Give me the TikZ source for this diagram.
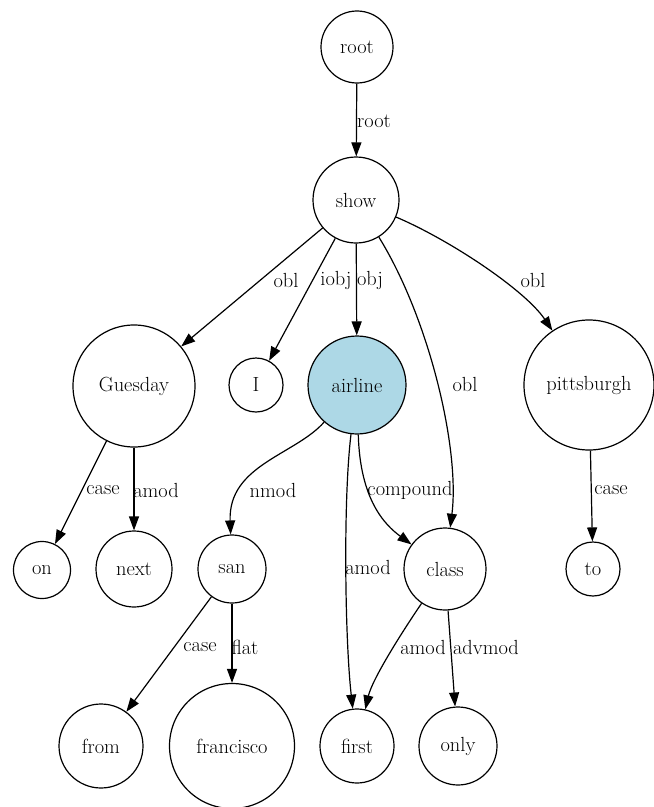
\documentclass[tikz,border=0pt]{standalone}
\usepackage{fontspec}
\usetikzlibrary{arrows.meta}
\definecolor{nodefill}{RGB}{173,216,230}
\begin{document}
\begin{tikzpicture}[x=1bp,y=-1bp,
  word/.style={circle,draw=black,line width=1.2bp,inner sep=0pt,text=black,
    font=\fontsize{20.5}{24}\selectfont},
  lbl/.style={inner sep=0pt,text=black,font=\fontsize{20.5}{24}\selectfont},
  dep/.style={line width=1.2bp,-{Triangle[length=14bp,width=10bp]}}]
\useasboundingbox (0,0) rectangle (654,807);

% tokens
\node[word,minimum size=72bp]  (root)  at (357,47)  {root};
\node[word,minimum size=86bp]  (show)  at (356,200) {show};
\node[word,minimum size=122bp] (guesday) at (134,386) {Guesday};
\node[word,minimum size=54bp]  (I)     at (256,385) {I};
\node[word,minimum size=98bp,fill=nodefill] (airline) at (357,385) {airline};
\node[word,minimum size=130bp] (pitt)  at (589,385) {pittsburgh};
\node[word,minimum size=57bp]  (on)    at (42,570)  {on};
\node[word,minimum size=76bp]  (next)  at (134,569) {next};
\node[word,minimum size=68bp]  (san)   at (232,569) {san};
\node[word,minimum size=82bp]  (class) at (445,569) {class};
\node[word,minimum size=54bp]  (to)    at (593,569) {to};
\node[word,minimum size=84bp]  (from)  at (101,746) {from};
\node[word,minimum size=125bp] (francisco) at (232,746) {francisco};
\node[word,minimum size=74bp]  (first) at (357,746) {first};
\node[word,minimum size=78bp]  (only)  at (458,746) {only};

% dependencies
\draw[dep] (root) -- (show);
\draw[dep] (show) -- (guesday);
\draw[dep] (show) -- (I);
\draw[dep] (show) -- (airline);
\draw[dep] (show) .. controls (430,320) and (460,450) .. (class);
\draw[dep] (show) .. controls (450,240) and (525,290) .. (pitt);
\draw[dep] (guesday) -- (on);
\draw[dep] (guesday) -- (next);
\draw[dep] (airline) .. controls (295,455) and (228,465) .. (san);
\draw[dep] (airline) .. controls (343,500) and (345,640) .. (first);
\draw[dep] (airline) .. controls (360,500) and (385,525) .. (class);
\draw[dep] (pitt) -- (to);
\draw[dep] (san) -- (from);
\draw[dep] (san) -- (francisco);
\draw[dep] (class) .. controls (400,635) and (372,680) .. (first);
\draw[dep] (class) -- (only);

% relation labels
\node[lbl] (l-root)   at (374,121) {root};
\node[lbl] (l-obl1)   at (286,280) {obl};
\node[lbl] (l-iobj)   at (336,280) {iobj};
\node[lbl] (l-obj)    at (370,280) {obj};
\node[lbl] (l-obl2)   at (533,280) {obl};
\node[lbl] (l-obl3)   at (465,384) {obl};
\node[lbl] (l-case1)  at (103,490) {case};
\node[lbl] (l-amod1)  at (156,490) {amod};
\node[lbl] (l-nmod)   at (273,490) {nmod};
\node[lbl] (l-comp)   at (410,490) {compound};
\node[lbl] (l-case2)  at (611,490) {case};
\node[lbl] (l-amod2)  at (368,567) {amod};
\node[lbl] (l-case3)  at (200,647) {case};
\node[lbl] (l-flat)   at (245,647) {flat};
\node[lbl] (l-amod3)  at (423,647) {amod};
\node[lbl] (l-advmod) at (486,647) {advmod};
\end{tikzpicture}
\end{document}
